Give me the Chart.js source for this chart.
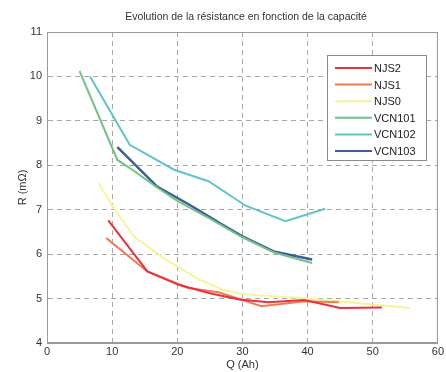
<!DOCTYPE html>
<html lang="fr">
<head>
  <meta charset="UTF-8" />
  <title>Evolution de la résistance</title>
  <script src="https://cdn.jsdelivr.net/npm/chart.js"></script>
  <style>
    html, body { margin: 0; padding: 0; background: #fff; }
    #wrap { width: 446px; height: 372px; }
  </style>
</head>
<body>
  <div id="wrap"><canvas id="graphe"></canvas></div>

  <script>
    // donnees
    const series = ['NJS2', 'NJS1', 'NJS0', 'VCN101', 'VCN102', 'VCN103'];
    const couleurs = ['#e8323c', '#f07a55', '#f6f49a', '#72c283', '#62c3c9', '#3d5e9c'];

    const qNJS2 = [9.4, 15.4, 20.2, 25, 29.5, 34, 39.5, 45, 51.4];
    const rNJS2 = [6.76, 5.61, 5.31, 5.12, 4.98, 4.92, 4.97, 4.79, 4.8];

    const qNJS1 = [9.1, 15.4, 21.7, 26.3, 29.3, 32.9, 39.5, 44.8];
    const rNJS1 = [6.36, 5.61, 5.24, 5.14, 5.0, 4.83, 4.94, 4.92];

    const qNJS0 = [7.9, 10.1, 13.3, 18.2, 23.3, 27, 30, 40, 55.7];
    const rNJS0 = [7.6, 7.07, 6.4, 5.88, 5.43, 5.2, 5.1, 5.0, 4.79];

    const qVCN101 = [5, 10.8, 13.1, 16.9, 20, 25, 30, 35, 40.7];
    const rVCN101 = [10.12, 8.12, 7.9, 7.5, 7.2, 6.8, 6.38, 6.03, 5.8];

    const qVCN102 = [6.6, 12.7, 19.5, 24.8, 30.5, 36.6, 42.7];
    const rVCN102 = [10.0, 8.46, 7.9, 7.64, 7.09, 6.74, 7.02];

    const qVCN103 = [10.8, 16.9, 22, 26.7, 30, 34.8, 40.7];
    const rVCN103 = [8.41, 7.52, 7.1, 6.68, 6.4, 6.06, 5.88];

    const xTicks = [0, 10, 20, 30, 40, 50, 60];
    const yTicks = [4, 5, 6, 7, 8, 9, 10, 11];

    const qs = [qNJS2, qNJS1, qNJS0, qVCN101, qVCN102, qVCN103];
    const rs = [rNJS2, rNJS1, rNJS0, rVCN101, rVCN102, rVCN103];

    const datasets = series.map((nom, i) => ({
      label: nom,
      data: qs[i].map((q, k) => ({ x: q, y: rs[i][k] })),
      borderColor: couleurs[i],
      backgroundColor: couleurs[i],
      borderWidth: i === 5 ? 2.5 : 2,
      pointRadius: 0,
      tension: 0
    }));

    // titre + cadre + legende dessines a la main
    const habillage = {
      id: 'habillage',
      afterDraw(chart) {
        const ctx = chart.ctx;
        const a = chart.chartArea;
        ctx.save();
        ctx.strokeStyle = '#9a9a9a';
        ctx.lineWidth = 1;
        ctx.setLineDash([]);
        ctx.strokeRect(a.left + 0.5, a.top + 0.5, a.right - a.left - 1, a.bottom - a.top - 1);

        ctx.fillStyle = '#333';
        ctx.font = '10.5px "Liberation Sans", Arial, sans-serif';
        ctx.textAlign = 'center';
        ctx.textBaseline = 'middle';
        ctx.fillText('Evolution de la résistance en fonction de la capacité', 246, 17);

        // legende
        const lx = 327, ly = 55, lw = 99, lh = 105;
        ctx.fillStyle = '#fff';
        ctx.fillRect(lx, ly, lw, lh);
        ctx.strokeStyle = '#8a8a8a';
        ctx.strokeRect(lx + 0.5, ly + 0.5, lw, lh);
        ctx.font = '11px "Liberation Sans", Arial, sans-serif';
        ctx.textAlign = 'left';
        chart.data.datasets.forEach((ds, i) => {
          const y = 68 + i * 16.6;
          ctx.strokeStyle = ds.borderColor;
          ctx.lineWidth = 2;
          ctx.beginPath();
          ctx.moveTo(335, y);
          ctx.lineTo(372, y);
          ctx.stroke();
          ctx.fillStyle = '#222';
          ctx.fillText(ds.label, 374, y + 1);
        });
        ctx.restore();
      }
    };

    new Chart(document.getElementById('graphe'), {
      type: 'line',
      data: { datasets: datasets },
      plugins: [habillage],
      options: {
        responsive: true,
        maintainAspectRatio: false,
        animation: false,
        layout: { padding: { top: 32, right: 4, left: 0, bottom: 0 } },
        plugins: { legend: { display: false }, tooltip: { enabled: false } },
        scales: {
          x: {
            type: 'linear',
            min: 0, max: 60,
            afterFit(s) { s.height = 29; },
            afterBuildTicks(s) { s.ticks = xTicks.map(v => ({ value: v })); },
            grid: { color: '#a8a8a8', drawTicks: false, borderDash: [5, 4] },
            border: { display: true, color: '#9a9a9a', dash: [5, 4] },
            ticks: { color: '#333', padding: 2, maxRotation: 0, font: { size: 11, family: '"Liberation Sans", Arial' } },
            title: { display: true, text: 'Q (Ah)', color: '#333', padding: 0, font: { size: 11, family: '"Liberation Sans", Arial' } }
          },
          y: {
            min: 4, max: 11,
            afterFit(s) { s.width = 47; },
            afterBuildTicks(s) { s.ticks = yTicks.map(v => ({ value: v })); },
            grid: { color: '#a8a8a8', drawTicks: false, borderDash: [5, 4] },
            border: { display: true, color: '#9a9a9a', dash: [5, 4] },
            ticks: { color: '#333', padding: 5, font: { size: 11, family: '"Liberation Sans", Arial' } },
            title: { display: true, text: 'R (mΩ)', color: '#333', padding: { top: 16, bottom: 0 }, font: { size: 11, family: '"Liberation Sans", Arial' } }
          }
        }
      }
    });
  </script>
</body>
</html>
